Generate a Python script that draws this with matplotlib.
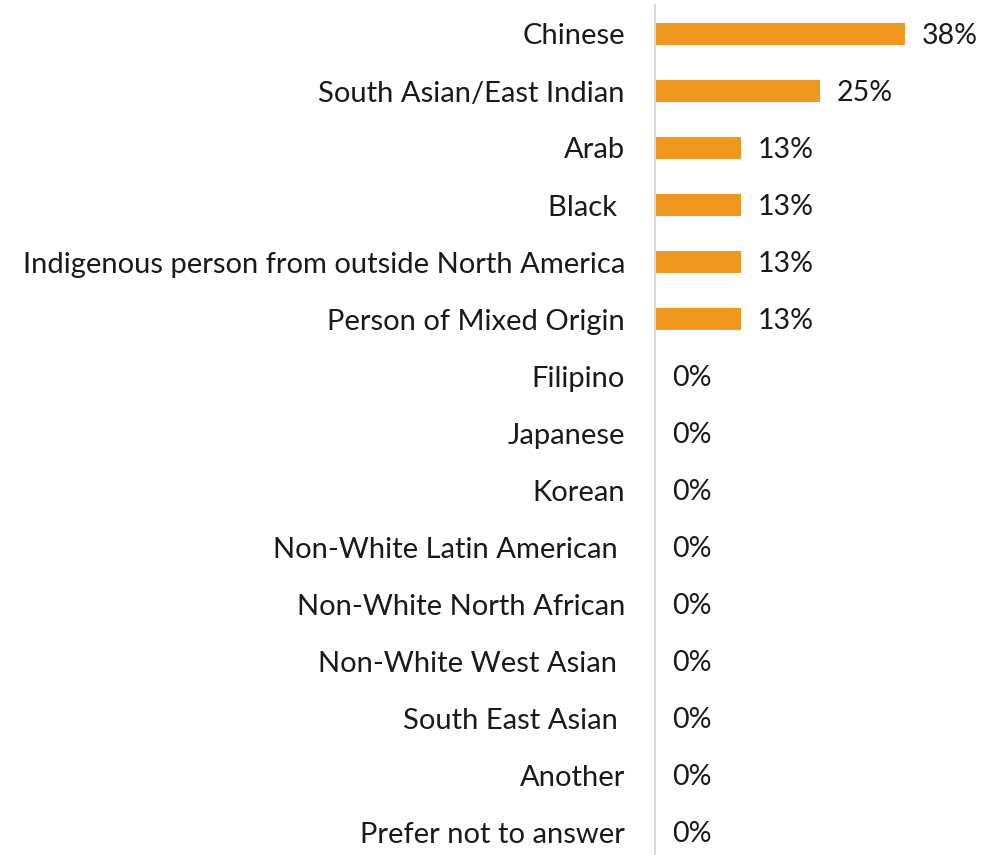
import matplotlib.pyplot as plt

categories = ['Chinese', 'South Asian/East Indian', 'Arab', 'Black ',
              'Indigenous person from outside North America', 'Person of Mixed Origin',
              'Filipino', 'Japanese', 'Korean', 'Non-White Latin American ',
              'Non-White North African', 'Non-White West Asian ', 'South East Asian ',
              'Another', 'Prefer not to answer']
values = [38, 25, 13, 13, 13, 13, 0, 0, 0, 0, 0, 0, 0, 0, 0]

plt.rcParams['font.family'] = ['Lato', 'DejaVu Sans']

fig = plt.figure(figsize=(9.89, 8.55), dpi=100)
W, H = 989, 855
ax = fig.add_axes([655 / W, 0, (W - 655) / W, (H - 5.5) / H])

pos = list(range(len(categories)))
ax.barh(pos, values, height=0.39, color='#F0981E')
for p, v in zip(pos, values):
    ax.annotate(f'{v}%', (v, p), xytext=(17, -2), textcoords='offset pixels',
                va='center', ha='left', fontsize=20.5, color='#1a1a1a')

ax.set_xlim(0, (W - 655) / 6.58)
ax.set_ylim(-0.5 + (H - 5.5) / 57, -0.5)
ax.set_yticks(pos)
ax.set_yticklabels(categories, fontsize=21, color='#1a1a1a')
ax.tick_params(axis='y', length=0, pad=21.6)
ax.set_xticks([])
for s in ['top', 'right', 'bottom']:
    ax.spines[s].set_visible(False)
ax.spines['left'].set_color('#d9d9d9')
ax.spines['left'].set_linewidth(1.5)

fig.savefig('out.png', dpi=100)
